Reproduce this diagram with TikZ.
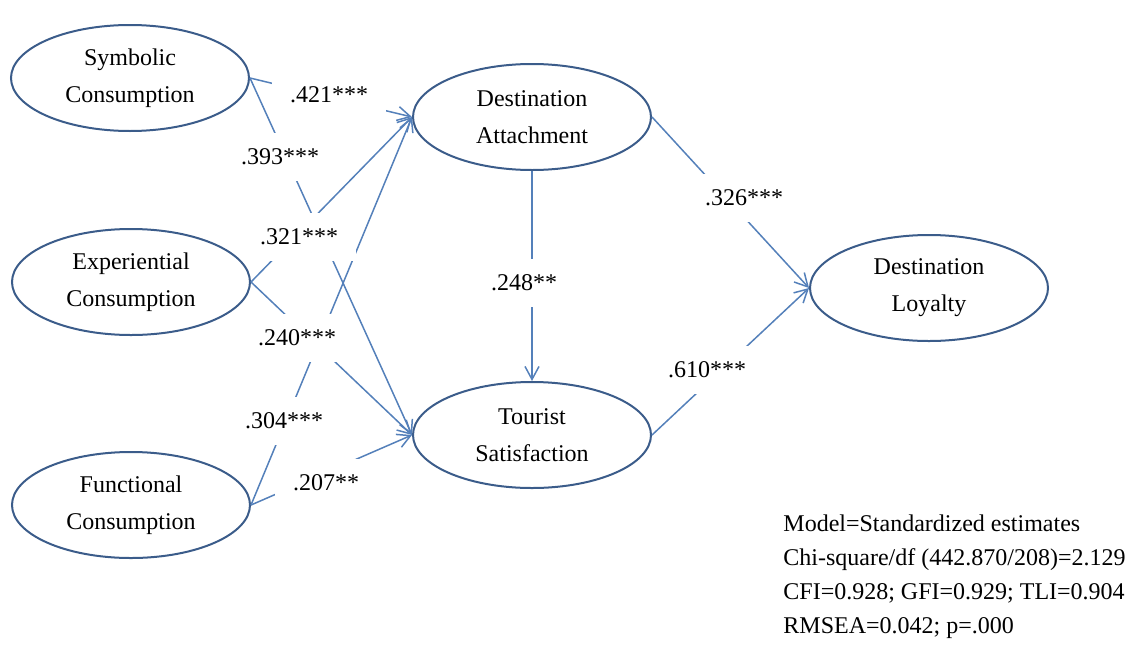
\documentclass[tikz,border=0pt]{standalone}
\usepackage{fontspec}
\setmainfont{Liberation Serif}
\usetikzlibrary{shapes.geometric,arrows.meta}

\definecolor{rimblue}{RGB}{59,92,138}
\definecolor{pathblue}{RGB}{84,128,186}

\tikzset{
  latent/.style={ellipse,draw=rimblue,line width=1pt,minimum width=119pt,minimum height=53pt,
    inner sep=0pt,align=center,font=\fontsize{12}{18.5}\selectfont},
  effect/.style={draw=pathblue,line width=0.75pt,-{Straight Barb[length=6.5pt,width=7pt]}},
  coef/.style={fill=white,inner xsep=9pt,inner ysep=8pt,font=\fontsize{12}{14}\selectfont}
}

\begin{document}
\begin{tikzpicture}[x=0.5pt,y=-0.5pt]
\useasboundingbox (0,0) rectangle (1139,648);

% latent constructs
\node[latent] (sym) at (130,78) {Symbolic\\Consumption};
\node[latent] (exp) at (131,282) {Experiential\\Consumption};
\node[latent] (fun) at (131,505) {Functional\\Consumption};
\node[latent] (att) at (532,117) {Destination\\Attachment};
\node[latent] (sat) at (532,435) {Tourist\\Satisfaction};
\node[latent] (loy) at (929,288) {Destination\\Loyalty};

% structural paths
\foreach \src in {sym,exp,fun}
\foreach \dst in {att,sat} {
    \draw[effect] (\src.east) -- (\dst.west);
}
\draw[effect] (att) -- (sat);
\draw[effect] (att.east) -- (loy.west);
\draw[effect] (sat.east) -- (loy.west);

% path coefficients
\node[coef] (symatt) at (329,95) {.421***};
\node[coef] (symsat) at (280,157) {.393***};
\node[coef] (expatt) at (299,237) {.321***};
\node[coef] (expsat) at (297,338) {.240***};
\node[coef] (funatt) at (284,421) {.304***};
\node[coef] (funsat) at (326,483) {.207**};
\node[coef] (attsat) at (524,283) {.248**};
\node[coef] (attloy) at (744,198) {.326***};
\node[coef] (satloy) at (707,370) {.610***};

% fit indices
\node[anchor=north west,inner sep=0pt,align=left,font=\fontsize{12}{17}\selectfont] (fit) at (783,514)
  {Model=Standardized estimates\\Chi-square/df (442.870/208)=2.129\\CFI=0.928; GFI=0.929; TLI=0.904\\RMSEA=0.042; p=.000};
\end{tikzpicture}
\end{document}
